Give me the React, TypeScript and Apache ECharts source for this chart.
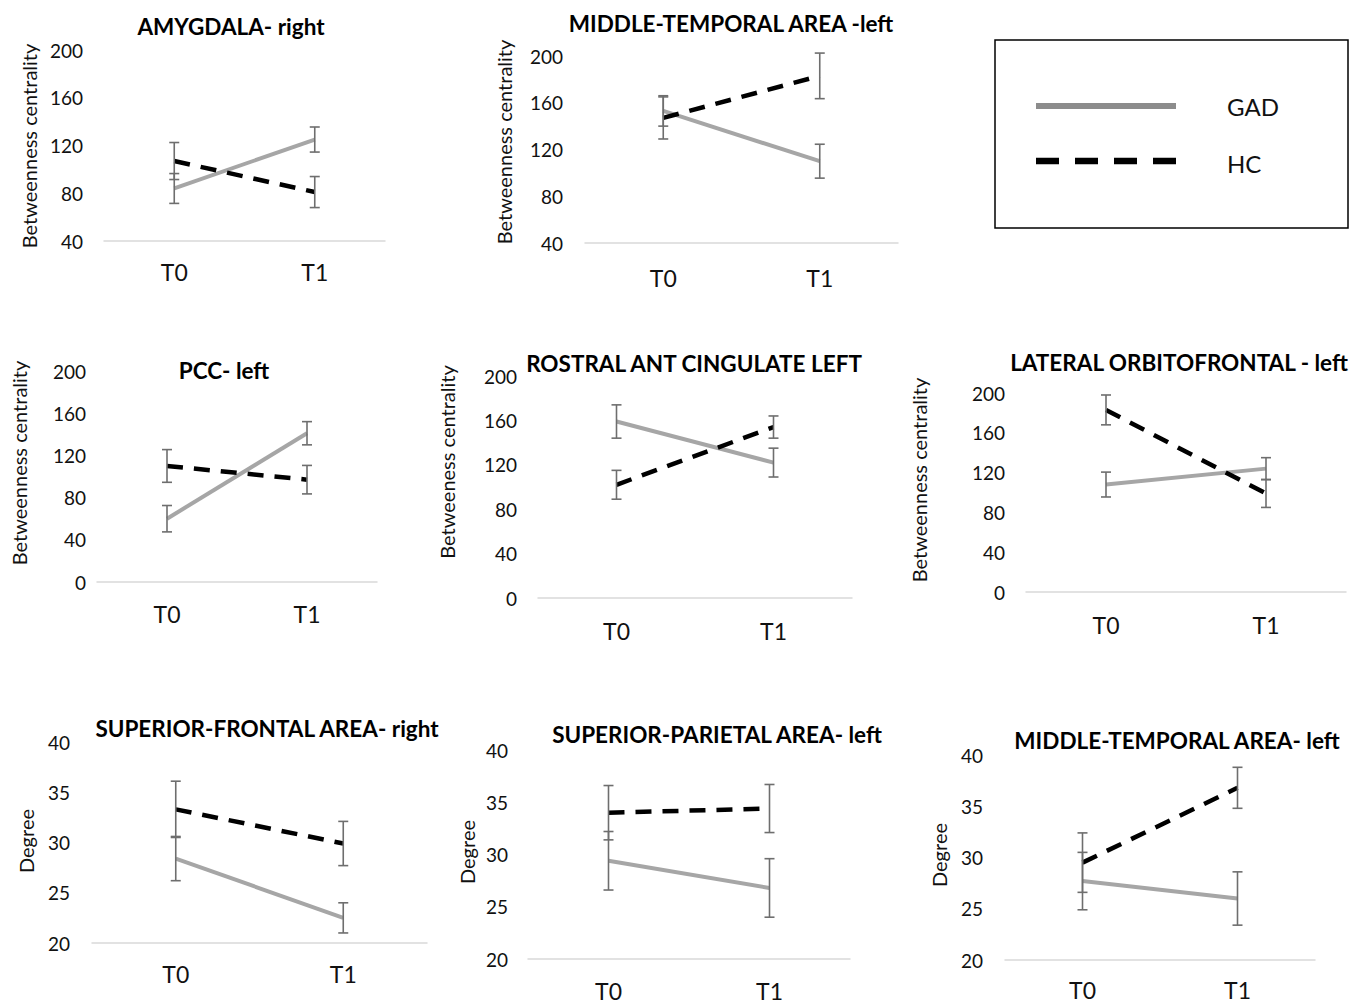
import React, { useEffect, useRef } from "react";
import * as echarts from "echarts";

// ---- data ----
const categories = ["T0", "T1"];
const panelTitles = [
  "AMYGDALA- right",
  "MIDDLE-TEMPORAL AREA -left",
  "PCC- left",
  "ROSTRAL ANT CINGULATE LEFT",
  "LATERAL ORBITOFRONTAL - left",
  "SUPERIOR-FRONTAL AREA- right",
  "SUPERIOR-PARIETAL AREA- left",
  "MIDDLE-TEMPORAL AREA- left",
];
const yAxisNames = [
  "Betweenness centrality",
  "Betweenness centrality",
  "Betweenness centrality",
  "Betweeness centrality",
  "Betweenness centrality",
  "Degree",
  "Degree",
  "Degree",
];
const gadMean = [
  [84, 125],
  [153, 110],
  [60, 141],
  [159, 122],
  [108, 124],
  [28.4, 22.5],
  [29.4, 26.8],
  [27.7, 26.0],
];
const gadErr = [
  [12.5, 10.5],
  [13, 14.5],
  [12.5, 11],
  [15, 13],
  [12.5, 11],
  [2.2, 1.5],
  [2.8, 2.8],
  [2.8, 2.6],
];
const hcMean = [
  [107, 81],
  [147, 183],
  [110, 97],
  [102, 154],
  [183, 99],
  [33.3, 29.9],
  [34.0, 34.4],
  [29.5, 36.8],
];
const hcErr = [
  [15.5, 13],
  [18, 19.5],
  [15.5, 13.5],
  [13, 10],
  [15, 14],
  [2.8, 2.2],
  [2.6, 2.3],
  [2.9, 2.0],
];
const yMin = [40, 40, 0, 0, 0, 20, 20, 20];
const yMax = [200, 200, 200, 200, 200, 40, 40, 40];
const yStep = [40, 40, 40, 40, 40, 5, 5, 5];
const legendNames = ["GAD", "HC"];

// ---- layout (pixels) ----
const layout = [
  { left: 104, top: 50, width: 281, height: 191, tx: 231, ty: 26, nx: 29, ny: 146, xm: 19, ym: 21 },
  { left: 585, top: 56, width: 313, height: 187, tx: 731, ty: 23, nx: 504, ny: 142, xm: 23, ym: 22 },
  { left: 97, top: 371, width: 280, height: 211, tx: 224, ty: 370, nx: 19, ny: 463, xm: 20, ym: 11 },
  { left: 538, top: 376, width: 314, height: 222, tx: 694, ty: 363, nx: 447, ny: 462, xm: 21, ym: 21 },
  { left: 1026, top: 393, width: 320, height: 199, tx: 1179, ty: 362, nx: 919, ny: 480, xm: 21, ym: 21 },
  { left: 92, top: 742, width: 335, height: 201, tx: 267, ty: 728, nx: 26, ny: 841, xm: 19, ym: 22 },
  { left: 528, top: 750, width: 322, height: 209, tx: 717, ty: 734, nx: 467, ny: 852, xm: 20, ym: 20 },
  { left: 1005, top: 755, width: 310, height: 205, tx: 1177, ty: 740, nx: 939, ny: 855, xm: 18, ym: 22 },
];

const FONT = "Lato, 'Open Sans', sans-serif";
const GAD_COLOR = "#a6a6a6";
const HC_COLOR = "#000000";
const ERR_COLOR = "#6e6e6e";

function errorSeries(i: number, means: number[], errs: number[]) {
  return {
    type: "custom",
    xAxisIndex: i,
    yAxisIndex: i,
    z: 10,
    silent: true,
    data: categories.map((_, j) => [j, means[j] - errs[j], means[j] + errs[j]]),
    encode: { x: 0, y: [1, 2] },
    renderItem: (params: any, api: any) => {
      const x = api.value(0);
      const lo = api.coord([x, api.value(1)]);
      const hi = api.coord([x, api.value(2)]);
      const w = 5;
      const style = { stroke: ERR_COLOR, lineWidth: 1.6 };
      return {
        type: "group",
        children: [
          { type: "line", shape: { x1: lo[0], y1: lo[1], x2: hi[0], y2: hi[1] }, style },
          { type: "line", shape: { x1: lo[0] - w, y1: lo[1], x2: lo[0] + w, y2: lo[1] }, style },
          { type: "line", shape: { x1: hi[0] - w, y1: hi[1], x2: hi[0] + w, y2: hi[1] }, style },
        ],
      };
    },
  };
}

export default function App() {
  const ref = useRef<HTMLDivElement>(null);
  useEffect(() => {
    document.body.style.margin = "0";
    if (!ref.current) return;
    const chart = echarts.init(ref.current, undefined, { renderer: "svg" });

    const grids: any[] = [];
    const xAxes: any[] = [];
    const yAxes: any[] = [];
    const series: any[] = [];
    const graphics: any[] = [];

    layout.forEach((L, i) => {
      grids.push({ left: L.left, top: L.top, width: L.width, height: L.height, containLabel: false });
      xAxes.push({
        type: "category",
        gridIndex: i,
        data: categories,
        boundaryGap: true,
        axisLine: { show: true, lineStyle: { color: "#d9d9d9", width: 1.5 } },
        axisTick: { show: false },
        axisLabel: { color: "#111", fontSize: 23, fontFamily: FONT, margin: L.xm },
        splitLine: { show: false },
      });
      yAxes.push({
        type: "value",
        gridIndex: i,
        min: yMin[i],
        max: yMax[i],
        interval: yStep[i],
        axisLine: { show: false },
        axisTick: { show: false },
        splitLine: { show: false },
        axisLabel: { color: "#111", fontSize: 19, fontFamily: FONT, margin: L.ym },
      });
      series.push({
        type: "line",
        name: legendNames[0],
        xAxisIndex: i,
        yAxisIndex: i,
        data: gadMean[i],
        showSymbol: false,
        symbol: "none",
        lineStyle: { color: GAD_COLOR, width: 4 },
        z: 3,
      });
      series.push({
        type: "line",
        name: legendNames[1],
        xAxisIndex: i,
        yAxisIndex: i,
        data: hcMean[i],
        showSymbol: false,
        symbol: "none",
        lineStyle: { color: HC_COLOR, width: 4.5, type: [16, 11], cap: "butt" },
        z: 4,
      });
      series.push(errorSeries(i, gadMean[i], gadErr[i]));
      series.push(errorSeries(i, hcMean[i], hcErr[i]));

      graphics.push({
        type: "text",
        x: L.tx,
        y: L.ty,
        style: {
          text: panelTitles[i],
          fill: "#000",
          font: `bold 22.5px ${FONT}`,
          textAlign: "center",
          textVerticalAlign: "middle",
        },
      });
      graphics.push({
        type: "text",
        x: L.nx,
        y: L.ny,
        rotation: Math.PI / 2,
        style: {
          text: yAxisNames[i],
          fill: "#111",
          font: `20px ${FONT}`,
          textAlign: "center",
          textVerticalAlign: "middle",
        },
      });
    });

    // legend box
    graphics.push({
      type: "rect",
      shape: { x: 995, y: 40, width: 353, height: 188 },
      style: { fill: "none", stroke: "#000", lineWidth: 1.5 },
    });
    graphics.push({
      type: "line",
      shape: { x1: 1036, y1: 106, x2: 1176, y2: 106 },
      style: { stroke: "#8c8c8c", lineWidth: 6 },
    });
    graphics.push({
      type: "line",
      shape: { x1: 1036, y1: 161, x2: 1176, y2: 161 },
      style: { stroke: "#000", lineWidth: 6.5, lineDash: [23, 16] },
    });
    graphics.push({
      type: "text",
      x: 1227,
      y: 106,
      style: { text: legendNames[0], fill: "#111", font: `24px ${FONT}`, textAlign: "left", textVerticalAlign: "middle" },
    });
    graphics.push({
      type: "text",
      x: 1227,
      y: 163,
      style: { text: legendNames[1], fill: "#111", font: `24px ${FONT}`, textAlign: "left", textVerticalAlign: "middle" },
    });

    chart.setOption({
      animation: false,
      backgroundColor: "#ffffff",
      textStyle: { fontFamily: FONT },
      grid: grids,
      xAxis: xAxes,
      yAxis: yAxes,
      series,
      graphic: graphics,
    });
    return () => chart.dispose();
  }, []);
  return <div ref={ref} style={{ width: 1360, height: 1003 }} />;
}
